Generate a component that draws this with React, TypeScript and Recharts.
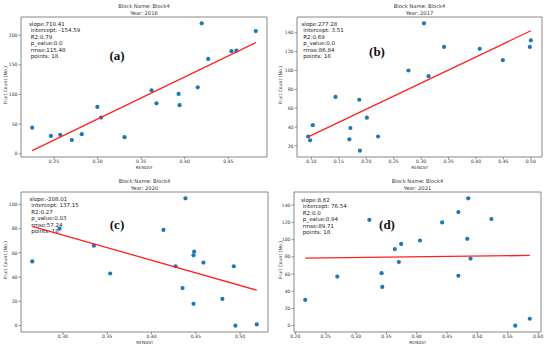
import React from "react";
import { ScatterChart, Scatter, XAxis, YAxis, ReferenceArea } from "recharts";

// Block4, RENDVI vs fruit count, one pair of arrays per year
const rendvi2016 = [0.225, 0.2465, 0.2572, 0.2705, 0.2819, 0.2998, 0.304, 0.331, 0.3619, 0.3676, 0.393, 0.3941, 0.415, 0.4195, 0.427, 0.4536, 0.4593, 0.4816];
const fruit2016 = [44, 30, 32, 23, 33, 79, 61, 28, 107, 85, 101, 82, 112, 220, 160, 173, 174, 207];

const rendvi2017 = [0.094, 0.0976, 0.1024, 0.1439, 0.1692, 0.171, 0.1872, 0.1884, 0.2011, 0.2215, 0.2769, 0.3052, 0.3136, 0.3419, 0.4069, 0.449, 0.4983, 0.5001];
const fruit2017 = [30, 26, 42, 72, 27, 39, 69, 15, 50, 30, 100, 150, 94, 125, 123, 111, 125, 132];

const rendvi2020 = [0.2654, 0.2962, 0.335, 0.3534, 0.4135, 0.4271, 0.435, 0.4383, 0.4474, 0.4481, 0.4474, 0.4586, 0.48, 0.4929, 0.4947, 0.5188];
const fruit2020 = [53, 80, 66, 43, 79, 49, 31, 105, 58, 61, 18, 52, 22, 49, 0, 1];

const rendvi2021 = [0.2163, 0.2692, 0.322, 0.3422, 0.3433, 0.364, 0.3706, 0.3744, 0.4054, 0.442, 0.4687, 0.4687, 0.4834, 0.485, 0.4888, 0.5232, 0.5624, 0.5864];
const fruit2021 = [30, 57, 123, 61, 45, 89, 74, 95, 99, 120, 132, 58, 101, 148, 78, 124, 0, 8];

// fit results printed in each panel
const years = ["2016", "2017", "2020", "2021"];
const slopes = [710.41, 277.28, -208.01, 8.62];
const intercepts = [-154.59, 3.51, 137.15, 76.54];
const r2s = ["0.79", "0.69", "0.27", "0.0"];
const pValues = ["0.0", "0.0", "0.03", "0.94"];
const rmses = ["115.48", "86.84", "57.24", "89.71"];
const pointCounts = [18, 18, 18, 18];
const tags = ["(a)", "(b)", "(c)", "(d)"];

const xTicksList = [
  [0.25, 0.3, 0.35, 0.4, 0.45],
  [0.1, 0.15, 0.2, 0.25, 0.3, 0.35, 0.4, 0.45, 0.5],
  [0.3, 0.35, 0.4, 0.45, 0.5],
  [0.2, 0.25, 0.3, 0.35, 0.4, 0.45, 0.5, 0.55, 0.6],
];
const yTicksList = [
  [0, 50, 100, 150, 200],
  [20, 40, 60, 80, 100, 120, 140],
  [0, 20, 40, 60, 80, 100],
  [0, 20, 40, 60, 80, 100, 120, 140],
];

const FONT = "'DejaVu Sans', sans-serif";
const PANEL_W = 275;
const PANEL_H = 175;

// matplotlib style 5% autoscale margin
function padded(vals: number[]): [number, number] {
  const lo = Math.min(...vals);
  const hi = Math.max(...vals);
  const r = hi - lo;
  return [lo - 0.05 * r, hi + 0.05 * r];
}

const Dot = (props: any) => <circle cx={props.cx} cy={props.cy} r={2.1} fill="#1f77b4" />;
const NoDot = () => <g />;

interface PanelProps {
  idx: number;
  xs: number[];
  ys: number[];
  left: number;
  top: number;
  plot: { l: number; t: number; r: number; b: number };
  statAt: [number, number];
  tagAt: [number, number];
}

function Panel({ idx, xs, ys, left, top, plot, statAt, tagAt }: PanelProps) {
  const slope = slopes[idx];
  const intercept = intercepts[idx];
  const points = xs.map((x, i) => ({ x, y: ys[i] }));
  const fit = [Math.min(...xs), Math.max(...xs)].map((x) => ({ x, y: slope * x + intercept }));
  const xDom = padded(xs);
  const yDom = padded([...ys, ...fit.map((p) => p.y)]);

  const stats = [
    `slope:${slope}`,
    ` intercept: ${intercept}`,
    ` R2:${r2s[idx]}`,
    ` p_value:${pValues[idx]}`,
    ` rmse:${rmses[idx]}`,
    ` points: ${pointCounts[idx]}`,
  ];
  const cx = (plot.l + plot.r) / 2;
  const cy = (plot.t + plot.b) / 2;

  return (
    <div style={{ position: "absolute", left, top, width: PANEL_W, height: PANEL_H }}>
      <svg width={PANEL_W} height={PANEL_H} style={{ position: "absolute", left: 0, top: 0 }}>
        <g fontFamily={FONT} fill="#333">
          <text x={cx} y={8} fontSize={5.2} textAnchor="middle">Block Name: Block4</text>
          <text x={cx} y={15} fontSize={5.2} textAnchor="middle">Year: {years[idx]}</text>
          {stats.map((s, i) => (
            <text key={i} x={statAt[0]} y={statAt[1] + i * 6.4} fontSize={5.5} fill="#222" style={{ whiteSpace: "pre" }}>
              {s}
            </text>
          ))}
          <text x={cx} y={169} fontSize={4.3} textAnchor="middle">RENDVI</text>
          <text x={6} y={cy - 2} fontSize={4.6} textAnchor="middle" dominantBaseline="middle" transform={`rotate(-90 6 ${cy - 2})`}>
            Fruit Count (No.)
          </text>
        </g>
        <text x={tagAt[0]} y={tagAt[1]} fontSize={13} fontWeight="bold" fontFamily="'Liberation Serif', 'Times New Roman', serif" textAnchor="middle" dominantBaseline="middle" fill="#111">
          {tags[idx]}
        </text>
      </svg>
      <div style={{ position: "absolute", left: 0, top: 0 }}>
        <ScatterChart
          width={PANEL_W}
          height={PANEL_H}
          margin={{ top: plot.t, right: PANEL_W - plot.r, bottom: 0, left: 0 }}
        >
          <XAxis
            dataKey="x"
            type="number"
            domain={xDom}
            allowDataOverflow
            ticks={xTicksList[idx]}
            interval={0}
            tickFormatter={(v: number) => v.toFixed(2)}
            height={PANEL_H - plot.b}
            axisLine={false}
            tickSize={2.5}
            tickMargin={0.5}
            tickLine={{ stroke: "#555", strokeWidth: 0.6 }}
            tick={{ fontSize: 4.6, fill: "#3a3a3a", fontFamily: FONT }}
          />
          <YAxis
            dataKey="y"
            type="number"
            domain={yDom}
            allowDataOverflow
            ticks={yTicksList[idx]}
            interval={0}
            width={plot.l}
            axisLine={false}
            tickSize={2.5}
            tickMargin={1}
            tickLine={{ stroke: "#555", strokeWidth: 0.6 }}
            tick={{ fontSize: 4.6, fill: "#3a3a3a", fontFamily: FONT }}
          />
          <ReferenceArea
            x1={xDom[0]}
            x2={xDom[1]}
            y1={yDom[0]}
            y2={yDom[1]}
            fill="none"
            fillOpacity={0}
            stroke="#888"
            strokeWidth={1}
            ifOverflow="visible"
          />
          <Scatter data={points} shape={Dot} isAnimationActive={false} />
          <Scatter
            data={fit}
            shape={NoDot}
            line={{ stroke: "#ff2020", strokeWidth: 1.3 }}
            isAnimationActive={false}
          />
        </ScatterChart>
      </div>
    </div>
  );
}

export default function App() {
  return (
    <div
      style={{
        position: "absolute",
        left: 0,
        top: 0,
        width: 550,
        height: 350,
        background: "#fff",
        overflow: "hidden",
      }}
    >
      <Panel idx={0} xs={rendvi2016} ys={fruit2016} left={0} top={0}
        plot={{ l: 21, t: 17, r: 267, b: 157 }} statAt={[29, 26]} tagAt={[117, 57]} />
      <Panel idx={1} xs={rendvi2017} ys={fruit2017} left={275} top={0}
        plot={{ l: 22, t: 17, r: 267, b: 157 }} statAt={[26.5, 26]} tagAt={[102, 53]} />
      <Panel idx={2} xs={rendvi2020} ys={fruit2020} left={0} top={175}
        plot={{ l: 21, t: 17, r: 268, b: 157 }} statAt={[29.5, 26]} tagAt={[117, 51]} />
      <Panel idx={3} xs={rendvi2021} ys={fruit2021} left={275} top={175}
        plot={{ l: 19, t: 17, r: 266, b: 157 }} statAt={[26, 27]} tagAt={[112, 51]} />
    </div>
  );
}
